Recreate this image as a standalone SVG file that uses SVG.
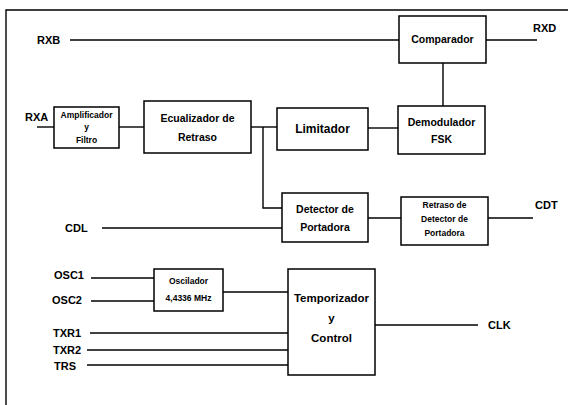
<svg xmlns="http://www.w3.org/2000/svg" width="568" height="405" viewBox="0 0 568 405">
<style>
.box{fill:#fff;stroke:#000;stroke-width:1.5}
.w{stroke:#000;stroke-width:1.4;fill:none}
text{font-family:"Liberation Sans",Arial,sans-serif;font-weight:bold;fill:#000}
.lbl{font-size:11px}
.n{font-size:10.5px;text-anchor:middle}
.s{font-size:8.5px;text-anchor:middle}
</style>
<rect width="568" height="405" fill="#fff"/>
<g id="frame"><path class="w" d="M6,405 V10 H568"/></g>
<g id="connectors">
<path class="w" d="M70,40 H399"/>
<path class="w" d="M486,40 H537"/>
<path class="w" d="M443,63 V106"/>
<path class="w" d="M37,127 H54"/>
<path class="w" d="M119,127 H144"/>
<path class="w" d="M251,127 H277"/>
<path class="w" d="M368,128 H398"/>
<path class="w" d="M263,127 V208 H282"/>
<path class="w" d="M102,228 H282"/>
<path class="w" d="M368,218 H401"/>
<path class="w" d="M488,218 H533"/>
<path class="w" d="M91,278 H154"/>
<path class="w" d="M91,301 H154"/>
<path class="w" d="M223,292 H288"/>
<path class="w" d="M90,333 H288"/>
<path class="w" d="M87,350 H288"/>
<path class="w" d="M87,365 H288"/>
<path class="w" d="M375,325 H478"/>
</g>
<g id="labels">
<text class="lbl" x="37" y="44">RXB</text>
<text class="lbl" x="533" y="32">RXD</text>
<text class="lbl" x="25" y="121">RXA</text>
<text class="lbl" x="535" y="209">CDT</text>
<text class="lbl" x="65" y="232">CDL</text>
<text class="lbl" x="54" y="279">OSC1</text>
<text class="lbl" x="52" y="304">OSC2</text>
<text class="lbl" x="53" y="337">TXR1</text>
<text class="lbl" x="53" y="354">TXR2</text>
<text class="lbl" x="54" y="370">TRS</text>
<text class="lbl" x="488" y="329">CLK</text>
</g>
<g id="amplificador">
<rect class="box" x="54" y="107" width="65" height="41"/>
<text class="s" x="86.5" y="118">Amplificador</text>
<text class="s" x="86.5" y="130">y</text>
<text class="s" x="86.5" y="143">Filtro</text>
</g>
<g id="ecualizador">
<rect class="box" x="144" y="101" width="107" height="52"/>
<text class="n" x="197.5" y="122">Ecualizador de</text>
<text class="n" x="197.5" y="141">Retraso</text>
</g>
<g id="limitador">
<rect class="box" x="277" y="108" width="91" height="42"/>
<text class="n" x="322.5" y="133" style="font-size:12px">Limitador</text>
</g>
<g id="comparador">
<rect class="box" x="399" y="16" width="87" height="47"/>
<text class="n" x="442.5" y="43">Comparador</text>
</g>
<g id="demodulador">
<rect class="box" x="398" y="106" width="87" height="48"/>
<text class="n" x="441.5" y="126">Demodulador</text>
<text class="n" x="441.5" y="143">FSK</text>
</g>
<g id="detector">
<rect class="box" x="282" y="193" width="86" height="49"/>
<text class="n" x="325" y="213">Detector de</text>
<text class="n" x="325" y="231">Portadora</text>
</g>
<g id="retraso">
<rect class="box" x="401" y="197" width="87" height="48"/>
<text class="s" x="444.5" y="208">Retraso de</text>
<text class="s" x="444.5" y="222">Detector de</text>
<text class="s" x="444.5" y="236">Portadora</text>
</g>
<g id="oscilador">
<rect class="box" x="154" y="269" width="69" height="42"/>
<text class="s" x="188.5" y="284">Oscilador</text>
<text class="s" x="188.5" y="301">4,4336 MHz</text>
</g>
<g id="temporizador">
<rect class="box" x="288" y="269" width="87" height="106"/>
<text class="n" x="331.5" y="302" style="font-size:11.5px">Temporizador</text>
<text class="n" x="331.5" y="322" style="font-size:11.5px">y</text>
<text class="n" x="331.5" y="342" style="font-size:11.5px">Control</text>
</g>
</svg>
